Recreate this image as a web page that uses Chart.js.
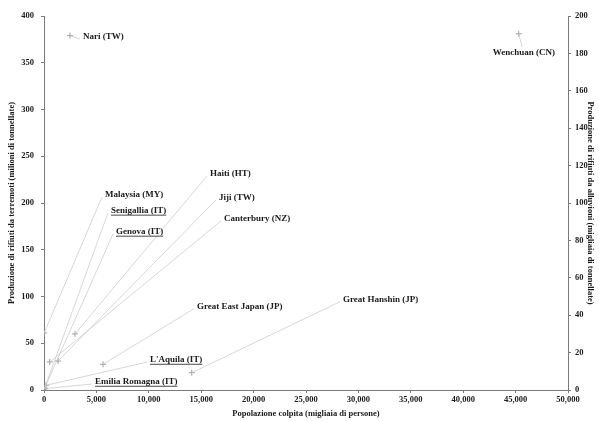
<!DOCTYPE html>
<html>
<head>
<meta charset="utf-8">
<script src="https://cdn.jsdelivr.net/npm/chart.js@4.4.1/dist/chart.umd.min.js"></script>
<style>
  html, body { margin: 0; padding: 0; background: #ffffff; }
  #wrap { width: 599px; height: 421px; }
</style>
</head>
<body>
<div id="wrap"><canvas id="c" width="599" height="421"></canvas></div>
<script>
// Earthquakes: affected population (thousands of people) vs debris (million tonnes, left axis)
const quakeNames  = ["Wenchuan (CN)", "Haiti (HT)", "Jiji (TW)", "Canterbury (NZ)", "Great East Japan (JP)", "Great Hanshin (JP)", "L'Aquila (IT)", "Emilia Romagna (IT)"];
const quakePop    = [45300, 2960, 1340, 550, 5630, 14100, 190, 100];
const quakeDebris = [381, 60, 31, 30, 27.5, 18.5, 5, 1.5];

// Floods: affected population (thousands of people) vs waste (thousand tonnes, right axis)
const floodNames = ["Nari (TW)", "Malaysia (MY)", "Senigallia (IT)", "Genova (IT)"];
const floodPop   = [2480, 20, 30, 60];
const floodWaste = [189.5, 30.5, 0.5, 1];

// Italian cases are underlined
const underlinedNames = ["Senigallia (IT)", "Genova (IT)", "L'Aquila (IT)", "Emilia Romagna (IT)"];

// Tick values
const xTicks  = [0, 5000, 10000, 15000, 20000, 25000, 30000, 35000, 40000, 45000, 50000];
const yTicks  = [0, 50, 100, 150, 200, 250, 300, 350, 400];
const y1Ticks = [0, 20, 40, 60, 80, 100, 120, 140, 160, 180, 200];

// Where each caption sits (x in population, y in left-axis units) and how the leader joins it
const captionPlacement = {
  "Nari (TW)":            { x: 3720,  y: 377.5, side: "left" },
  "Wenchuan (CN)":        { x: 45800, y: 360.5, side: "top" },
  "Malaysia (MY)":        { x: 5820,  y: 208.5, side: "left" },
  "Senigallia (IT)":      { x: 6390,  y: 191.5, side: "left" },
  "Genova (IT)":          { x: 6870,  y: 169,   side: "left" },
  "Haiti (HT)":           { x: 15840, y: 231,   side: "left" },
  "Jiji (TW)":            { x: 16700, y: 205.5, side: "left" },
  "Canterbury (NZ)":      { x: 17180, y: 183,   side: "left" },
  "Great East Japan (JP)":{ x: 14600, y: 89,    side: "left" },
  "Great Hanshin (JP)":   { x: 28530, y: 96.5,  side: "left" },
  "L'Aquila (IT)":        { x: 10115, y: 32,    side: "left" },
  "Emilia Romagna (IT)":  { x: 4870,  y: 8.5,   side: "left" }
};

const FONT = "'Liberation Serif', 'Times New Roman', serif";
const AXIS = '#7a7a7a';
const TEXT = '#1a1a1a';

const quakePoints = quakePop.map((p, i) => ({ x: p, y: quakeDebris[i], name: quakeNames[i] }));
const floodPoints = floodPop.map((p, i) => ({ x: p, y: floodWaste[i], name: floodNames[i] }));

// Draws leader lines and captions for every point
const captionPlugin = {
  id: 'captions',
  afterDatasetsDraw(chart) {
    const ctx = chart.ctx;
    const xs = chart.scales.x, ys = chart.scales.y;
    ctx.save();
    ctx.font = "bold 9px " + FONT;
    chart.data.datasets.forEach((ds, di) => {
      const meta = chart.getDatasetMeta(di);
      meta.data.forEach((el, i) => {
        const name = ds.data[i].name;
        const cp = captionPlacement[name];
        if (!cp) return;
        const ax = xs.getPixelForValue(cp.x);
        const ay = ys.getPixelForValue(cp.y);
        const w = ctx.measureText(name).width;
        let ex, ey, tx, align;
        if (cp.side === 'top') {
          ex = ax - 2; ey = ay - 6; tx = ax; align = 'center';
        } else {
          ex = ax - 3; ey = ay + 2; tx = ax; align = 'left';
        }
        ctx.strokeStyle = '#c6c6c6';
        ctx.lineWidth = 0.7;
        ctx.beginPath();
        ctx.moveTo(el.x, el.y);
        ctx.lineTo(ex, ey);
        ctx.stroke();
        ctx.fillStyle = TEXT;
        ctx.textAlign = align;
        ctx.textBaseline = 'middle';
        ctx.fillText(name, tx, ay);
        if (underlinedNames.includes(name)) {
          const x0 = align === 'center' ? tx - w / 2 : tx;
          ctx.strokeStyle = TEXT;
          ctx.lineWidth = 0.8;
          ctx.beginPath();
          ctx.moveTo(x0, ay + 4.2);
          ctx.lineTo(x0 + w, ay + 4.2);
          ctx.stroke();
        }
      });
    });
    ctx.restore();
  }
};

const tickFont = { family: FONT, size: 8.5, weight: 'bold' };
const titleFont = { family: FONT, size: 8.5, weight: 'bold' };
const fmt = v => Number(v).toLocaleString('en-US');

new Chart(document.getElementById('c'), {
  type: 'scatter',
  data: {
    datasets: [
      {
        label: 'Terremoti',
        data: quakePoints,
        yAxisID: 'y',
        pointStyle: 'cross',
        radius: 3,
        borderColor: '#a0a0a0',
        backgroundColor: '#a0a0a0',
        borderWidth: 1
      },
      {
        label: 'Alluvioni',
        data: floodPoints,
        yAxisID: 'y1',
        pointStyle: 'cross',
        radius: 3,
        borderColor: '#a0a0a0',
        backgroundColor: '#a0a0a0',
        borderWidth: 1
      }
    ]
  },
  options: {
    responsive: false,
    animation: false,
    devicePixelRatio: 1,
    layout: { padding: { top: 16, left: 0, right: 0, bottom: 0 } },
    plugins: { legend: { display: false }, tooltip: { enabled: false } },
    scales: {
      x: {
        type: 'linear',
        min: 0, max: 50000,
        afterBuildTicks: s => { s.ticks = xTicks.map(v => ({ value: v })); },
        afterFit: s => { s.height = 31; },
        border: { color: AXIS, width: 1 },
        grid: { drawOnChartArea: false, drawTicks: true, tickLength: 3, color: AXIS },
        ticks: { font: tickFont, color: TEXT, padding: 2, maxRotation: 0, callback: fmt },
        title: { display: true, text: 'Popolazione colpita (migliaia di persone)', font: titleFont, color: TEXT, padding: { top: 0, bottom: 2 } }
      },
      y: {
        position: 'left',
        min: 0, max: 400,
        afterBuildTicks: s => { s.ticks = yTicks.map(v => ({ value: v })); },
        afterFit: s => { s.width = 44; },
        border: { color: AXIS, width: 1 },
        grid: { drawOnChartArea: false, drawTicks: true, tickLength: 3, color: AXIS },
        ticks: { font: tickFont, color: TEXT, padding: 7, callback: fmt },
        title: { display: true, text: 'Produzione di rifiuti da terremoti (milioni di tonnellate)', font: titleFont, color: TEXT, padding: { top: 7, bottom: 0 } }
      },
      y1: {
        position: 'right',
        min: 0, max: 200,
        afterBuildTicks: s => { s.ticks = y1Ticks.map(v => ({ value: v })); },
        afterFit: s => { s.width = 31; },
        border: { color: AXIS, width: 1 },
        grid: { drawOnChartArea: false, drawTicks: true, tickLength: 3, color: AXIS },
        ticks: { font: tickFont, color: TEXT, padding: 4, callback: fmt },
        title: { display: true, text: 'Produzione di rifiuti da alluvioni (migliaia di tonnellate)', font: titleFont, color: TEXT, padding: { top: 4, bottom: 0 } }
      }
    }
  },
  plugins: [captionPlugin]
});
</script>
</body>
</html>
